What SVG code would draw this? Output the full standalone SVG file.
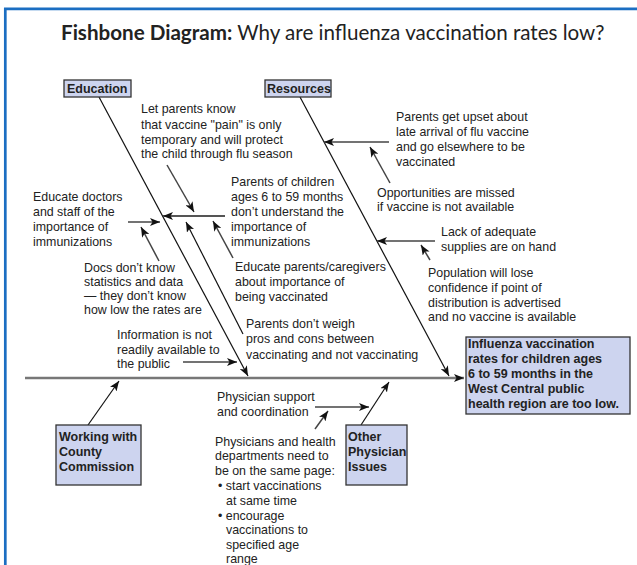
<svg xmlns="http://www.w3.org/2000/svg" width="637" height="565" viewBox="0 0 637 565">
<defs>
<marker id="ah" markerUnits="userSpaceOnUse" markerWidth="11" markerHeight="8" refX="10" refY="4" orient="auto">
<path d="M0,0 L10,4 L0,8 L2.5,4 z" fill="#111"/>
</marker>
<style>
.t{font-family:"Liberation Sans",Arial,sans-serif;font-size:12.4px;fill:#222}
.b{font-family:"Liberation Sans",Arial,sans-serif;font-size:12.5px;font-weight:bold;fill:#222}
.box{fill:#cdd4ef;stroke:#333;stroke-width:1.3}
.bone{stroke:#111;stroke-width:1.2;fill:none;marker-end:url(#ah)}
.sub{stroke:#444;stroke-width:1.5;fill:none;marker-end:url(#ah)}
</style>
</defs>
<rect width="637" height="565" fill="#fff"/>
<path d="M5.3,565 V8.8 H637" fill="none" stroke="#1b6ec2" stroke-width="2.7"/>
<text x="61" y="40" font-family="Lato,'Open Sans',sans-serif" font-size="20.6" fill="#222"><tspan font-weight="bold">Fishbone Diagram:</tspan> Why are influenza vaccination rates low?</text>

<g id="connectors">
<line class="bone" x1="25" y1="378" x2="464" y2="378" style="stroke:#777;stroke-width:2.5"/>
<line class="bone" x1="99" y1="97" x2="248" y2="376"/>
<line class="bone" x1="300" y1="97" x2="449" y2="376"/>
<line class="bone" x1="88" y1="425" x2="119" y2="381"/>
<line class="bone" x1="361" y1="425" x2="389" y2="382"/>
<line class="sub" x1="128" y1="222" x2="160" y2="222"/>
<line class="sub" x1="159" y1="261" x2="141" y2="227"/>
<line class="sub" x1="167" y1="165" x2="194" y2="212"/>
<line class="sub" x1="225" y1="216" x2="163" y2="216" style="stroke:#555;stroke-width:2"/>
<line class="sub" x1="233" y1="258" x2="213" y2="221"/>
<line class="sub" x1="243" y1="334" x2="186" y2="222" style="stroke:#111;stroke-width:1.2"/>
<line class="sub" x1="183" y1="362" x2="237" y2="362"/>
<line class="sub" x1="389" y1="142" x2="324" y2="142"/>
<line class="sub" x1="390" y1="183" x2="370" y2="147"/>
<line class="sub" x1="435" y1="241" x2="377" y2="241"/>
<line class="sub" x1="430" y1="260" x2="421" y2="245"/>
<line class="sub" x1="315" y1="407" x2="369" y2="407"/>
<line class="sub" x1="315" y1="429" x2="328" y2="411"/>
</g>

<g id="education"><rect class="box" x="64" y="80" width="67" height="17"/><text class="b" x="67" y="93">Education</text></g>
<g id="resources"><rect class="box" x="265" y="80" width="66" height="17"/><text class="b" x="267" y="93">Resources</text></g>
<g id="working"><rect class="box" x="56" y="425" width="85" height="60"/><text class="b"><tspan x="59" y="441">Working with</tspan><tspan x="59" y="456">County</tspan><tspan x="59" y="471">Commission</tspan></text></g>
<g id="other"><rect class="box" x="346" y="425" width="61" height="60"/><text class="b"><tspan x="348" y="441">Other</tspan><tspan x="348" y="456">Physician</tspan><tspan x="348" y="471">Issues</tspan></text></g>
<g id="effect"><rect class="box" x="466" y="337" width="164" height="77"/><text class="b"><tspan x="468" y="348">Influenza vaccination</tspan><tspan x="468" y="363">rates for children ages</tspan><tspan x="468" y="378">6 to 59 months in the</tspan><tspan x="468" y="393">West Central public</tspan><tspan x="468" y="408">health region are too low.</tspan></text></g>

<g id="c-letparents"><text class="t"><tspan x="141" y="113">Let parents know</tspan><tspan x="141" y="128.5">that vaccine "pain" is only</tspan><tspan x="141" y="143.5">temporary and will protect</tspan><tspan x="141" y="158">the child through flu season</tspan></text></g>
<g id="c-parentsof"><text class="t"><tspan x="231" y="185.5">Parents of children</tspan><tspan x="231" y="200.5">ages 6 to 59 months</tspan><tspan x="231" y="215.5">don’t understand the</tspan><tspan x="231" y="230.5">importance of</tspan><tspan x="231" y="245.5">immunizations</tspan></text></g>
<g id="c-educatedocs"><text class="t"><tspan x="33" y="200.5">Educate doctors</tspan><tspan x="33" y="215.5">and staff of the</tspan><tspan x="33" y="230.5">importance of</tspan><tspan x="33" y="245.5">immunizations</tspan></text></g>
<g id="c-docs"><text class="t"><tspan x="84" y="271.5">Docs don’t know</tspan><tspan x="84" y="286">statistics and data</tspan><tspan x="84" y="300">— they don’t know</tspan><tspan x="84" y="314">how low the rates are</tspan></text></g>
<g id="c-info"><text class="t"><tspan x="117" y="338.5">Information is not</tspan><tspan x="117" y="353.5">readily available to</tspan><tspan x="117" y="367.5">the public</tspan></text></g>
<g id="c-educateparents"><text class="t"><tspan x="235" y="271">Educate parents/caregivers</tspan><tspan x="235" y="286">about importance of</tspan><tspan x="235" y="300.5">being vaccinated</tspan></text></g>
<g id="c-weigh"><text class="t"><tspan x="246" y="327.5">Parents don’t weigh</tspan><tspan x="246" y="343">pros and cons between</tspan><tspan x="246" y="358.5">vaccinating and not vaccinating</tspan></text></g>
<g id="c-upset"><text class="t"><tspan x="396" y="121">Parents get upset about</tspan><tspan x="396" y="136">late arrival of flu vaccine</tspan><tspan x="396" y="151">and go elsewhere to be</tspan><tspan x="396" y="165.5">vaccinated</tspan></text></g>
<g id="c-opps"><text class="t"><tspan x="377" y="197">Opportunities are missed</tspan><tspan x="377" y="211">if vaccine is not available</tspan></text></g>
<g id="c-lack"><text class="t"><tspan x="441" y="236">Lack of adequate</tspan><tspan x="441" y="250.5">supplies are on hand</tspan></text></g>
<g id="c-pop"><text class="t"><tspan x="428" y="277">Population will lose</tspan><tspan x="428" y="292">confidence if point of</tspan><tspan x="428" y="306.5">distribution is advertised</tspan><tspan x="428" y="321">and no vaccine is available</tspan></text></g>
<g id="c-support"><text class="t"><tspan x="217" y="401">Physician support</tspan><tspan x="217" y="416">and coordination</tspan></text></g>
<g id="c-samepage"><text class="t"><tspan x="215" y="445.5">Physicians and health</tspan><tspan x="215" y="460">departments need to</tspan><tspan x="215" y="475">be on the same page:</tspan><tspan x="218" y="490">• start vaccinations</tspan><tspan x="226" y="504.5">at same time</tspan><tspan x="218" y="519.5">• encourage</tspan><tspan x="226" y="534">vaccinations to</tspan><tspan x="226" y="549">specified age</tspan><tspan x="226" y="563">range</tspan></text></g>
</svg>
